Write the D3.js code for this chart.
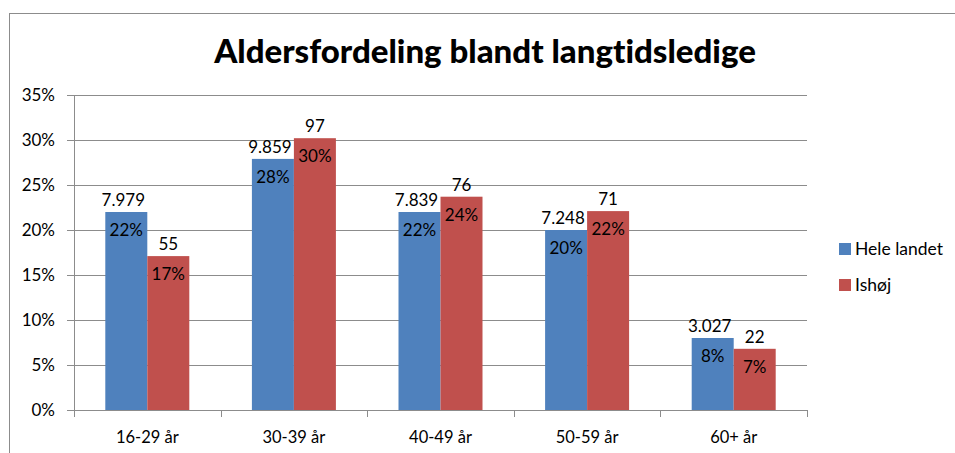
<!DOCTYPE html>
<html>
<head>
<meta charset="utf-8">
<script src="https://cdn.jsdelivr.net/npm/d3@7"></script>
<style>
  body { margin: 0; background: #fff; }
  svg text { font-family: Lato, "Open Sans", sans-serif; fill: #000; font-variant-ligatures: none; }
</style>
</head>
<body>
<div id="chart"></div>
<script>
  var w = 955,
      h = 453;

  // data
  var categories = ["16-29 år", "30-39 år", "40-49 år", "50-59 år", "60+ år"];
  var seriesNames = ["Hele landet", "Ishøj"];
  var heleShare = [22.0, 27.9, 22.0, 20.0, 8.0];
  var ishojShare = [17.1, 30.2, 23.7, 22.1, 6.8];
  var heleCount = ["7.979", "9.859", "7.839", "7.248", "3.027"];
  var ishojCount = ["55", "97", "76", "71", "22"];
  var heleLabel = ["22%", "28%", "22%", "20%", "8%"];
  var ishojLabel = ["17%", "30%", "24%", "22%", "7%"];
  var yTicks = [0, 5, 10, 15, 20, 25, 30, 35];
  var colors = ["#4F81BD", "#C0504D"];

  var plot = {left: 74, right: 807, top: 95, bottom: 410};

  var svg = d3.select("#chart").append("svg")
      .attr("width", w)
      .attr("height", h);

  // outer chart border
  svg.append("rect")
      .attr("x", 9.5).attr("y", 13.5)
      .attr("width", 1000).attr("height", 500)
      .attr("fill", "none")
      .attr("stroke", "#8c8c8c");

  svg.append("text")
      .attr("x", 485).attr("y", 63)
      .attr("text-anchor", "middle")
      .style("font-size", "33px")
      .style("font-weight", "900")
      .text("Aldersfordeling blandt langtidsledige");

  var x = d3.scaleBand().domain(categories).range([plot.left, plot.right]);
  // group of two bars ~84px wide centered in a ~147px band
  var x1 = d3.scaleBand().domain(seriesNames)
      .range([x.bandwidth() / 2 - 42, x.bandwidth() / 2 + 42]);
  var y = d3.scaleLinear().domain([0, 35]).range([plot.bottom, plot.top]);

  // gridlines
  svg.append("g").selectAll("line").data(yTicks)
    .enter().append("line")
      .attr("x1", plot.left - 7).attr("x2", plot.right)
      .attr("y1", function(d){ return Math.round(y(d)) + 0.5; })
      .attr("y2", function(d){ return Math.round(y(d)) + 0.5; })
      .attr("stroke", "#8c8c8c");

  // y axis line
  svg.append("line")
      .attr("x1", plot.left + 0.5).attr("x2", plot.left + 0.5)
      .attr("y1", plot.top).attr("y2", plot.bottom + 1)
      .attr("stroke", "#8c8c8c");

  // x category ticks
  var bounds = categories.map(function(c){ return x(c); }).concat([plot.right]);
  svg.append("g").selectAll("line").data(bounds)
    .enter().append("line")
      .attr("x1", function(d){ return Math.round(d) + 0.5; })
      .attr("x2", function(d){ return Math.round(d) + 0.5; })
      .attr("y1", plot.bottom).attr("y2", plot.bottom + 7)
      .attr("stroke", "#8c8c8c");

  svg.append("g").selectAll("text").data(yTicks)
    .enter().append("text")
      .attr("x", 55)
      .attr("y", function(d){ return y(d) + 6; })
      .attr("text-anchor", "end")
      .style("font-size", "17px")
      .text(function(d){ return d + "%"; });

  svg.append("g").selectAll("text").data(categories)
    .enter().append("text")
      .attr("x", function(d){ return x(d) + x.bandwidth() / 2; })
      .attr("y", 443)
      .attr("text-anchor", "middle")
      .style("font-size", "16.5px")
      .text(function(d){ return d; });

  var series = [
    {name: seriesNames[0], share: heleShare, count: heleCount, label: heleLabel},
    {name: seriesNames[1], share: ishojShare, count: ishojCount, label: ishojLabel}
  ];

  series.forEach(function(s, si) {
    var rows = categories.map(function(c, i){
      return {cat: c, v: s.share[i], count: s.count[i], label: s.label[i]};
    });
    var g = svg.append("g");
    g.selectAll("rect").data(rows)
      .enter().append("rect")
        .attr("x", function(d){ return x(d.cat) + x1(s.name); })
        .attr("y", function(d){ return y(d.v); })
        .attr("width", x1.bandwidth())
        .attr("height", function(d){ return plot.bottom - y(d.v); })
        .attr("fill", colors[si]);

    // count labels above bars (blue ones nudged left like the original)
    g.selectAll("text.count").data(rows)
      .enter().append("text")
        .attr("class", "count")
        .attr("x", function(d){ return x(d.cat) + x1(s.name) + x1.bandwidth() / 2 - (si === 0 ? 3 : 0); })
        .attr("y", function(d){ return y(d.v) - 6; })
        .attr("text-anchor", "middle")
        .style("font-size", "17px")
        .text(function(d){ return d.count; });

    g.selectAll("text.pct").data(rows)
      .enter().append("text")
        .attr("class", "pct")
        .attr("x", function(d){ return x(d.cat) + x1(s.name) + x1.bandwidth() / 2; })
        .attr("y", function(d){ return y(d.v) + 24; })
        .attr("text-anchor", "middle")
        .style("font-size", "17px")
        .text(function(d){ return d.label; });
  });

  // legend
  var legend = svg.append("g").selectAll("g").data(seriesNames)
    .enter().append("g")
      .attr("transform", function(d, i){ return "translate(839," + (243 + i * 36) + ")"; });
  legend.append("rect")
      .attr("width", 12).attr("height", 12)
      .attr("fill", function(d, i){ return colors[i]; });
  legend.append("text")
      .attr("x", 16).attr("y", 12)
      .style("font-size", "17.5px")
      .text(function(d){ return d; });
</script>
</body>
</html>
